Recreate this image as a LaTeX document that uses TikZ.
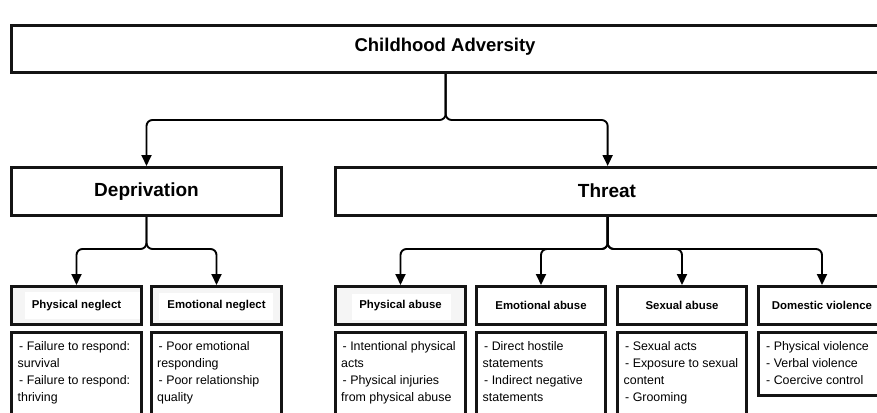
\documentclass[tikz,border=0pt]{standalone}
\usepackage{fontspec}
\setmainfont{Liberation Sans}
\usetikzlibrary{arrows.meta}
\begin{document}
\begin{tikzpicture}[x=1pt,y=-1pt,
  box/.style={draw=black!92, line width=2.6pt, inner sep=0pt},
  bigbox/.style={box, minimum height=48.4pt},
  titlebox/.style={box, minimum height=38.4pt, font=\fontsize{11.4}{13}\selectfont\bfseries},
  tint/.style={fill=black!4},
  descbox/.style={box},
  desctext/.style={anchor=north west, inner sep=0pt, align=left, font=\fontsize{12.4}{17}\selectfont},
  conn/.style={line width=1.9pt, rounded corners=6pt, -{Triangle[width=10pt,length=11pt]}}
]
\useasboundingbox (0,0) rectangle (877,412);
\clip (0,0) rectangle (877,412);

% faint tinted backgrounds behind three titles
\fill[tint] (11,286) rectangle (142,325);
\fill[white] (25,292) rectangle (140,319);
\fill[tint] (151,286) rectangle (282,325);
\fill[white] (159,293) rectangle (273,320);
\fill[tint] (335,286) rectangle (466,325);
\fill[white] (352,294) rectangle (451,320);

% level 0
\node[box, minimum width=868.7pt, minimum height=47.4pt] (top) at (445.65,49) {};
\node[font=\fontsize{18.5}{22}\selectfont\bfseries] (toptext) at (445,47) {Childhood Adversity};

% level 1
\node[bigbox, minimum width=270.4pt, font=\fontsize{19}{23}\selectfont\bfseries] (dep) at (146.5,191.5) {Deprivation};
\node[bigbox, minimum width=544.7pt] (thr) at (607.65,191.5) {};
\node[font=\fontsize{19}{23}\selectfont\bfseries] (thrtext) at (607,191) {Threat};

% level 2 titles
\node[titlebox, minimum width=130.4pt] (pn) at (76.5,305.5) {Physical neglect};
\node[titlebox, minimum width=130.4pt] (en) at (216.5,305.5) {Emotional neglect};
\node[titlebox, minimum width=130.4pt] (pa) at (400.5,305.5) {Physical abuse};
\node[titlebox, minimum width=129.4pt] (ea) at (541,305.5) {Emotional abuse};
\node[titlebox, minimum width=129.4pt] (sa) at (682,305.5) {Sexual abuse};
\node[titlebox, minimum width=127.4pt] (dv) at (822,305.5) {Domestic violence};

% description boxes
\node[descbox, minimum width=130.4pt, minimum height=107.4pt] (pnd) at (76.5,386) {};
\node[descbox, minimum width=130.4pt, minimum height=107.4pt] (end) at (216.5,386) {};
\node[descbox, minimum width=130.4pt, minimum height=107.4pt] (pad) at (400.5,386) {};
\node[descbox, minimum width=129.4pt, minimum height=107.4pt] (ead) at (541,386) {};
\node[descbox, minimum width=129.4pt, minimum height=107.4pt] (sad) at (682,386) {};
\node[descbox, minimum width=127.4pt, minimum height=63.4pt] (dvd) at (822,364) {};

% description texts
\node[desctext] (pnt) at (17.5,341) {\hspace{1.5pt}- Failure to respond:\\survival\\\hspace{1.5pt}- Failure to respond:\\thriving};
\node[desctext] (ent) at (157,341) {\hspace{1.5pt}- Poor emotional\\responding\\\hspace{1.5pt}- Poor relationship\\quality};
\node[desctext] (pat) at (341,341) {\hspace{1.5pt}- Intentional physical\\acts\\\hspace{1.5pt}- Physical injuries\\from physical abuse};
\node[desctext] (eat) at (482.5,341) {\hspace{1.5pt}- Direct hostile\\statements\\\hspace{1.5pt}- Indirect negative\\statements};
\node[desctext] (sat) at (623.5,341) {\hspace{1.5pt}- Sexual acts\\\hspace{1.5pt}- Exposure to sexual\\content\\\hspace{1.5pt}- Grooming};
\node[desctext] (dvt) at (766,341) {- Physical violence\\- Verbal violence\\- Coercive control};

% connectors
\path (top.south) ++(0,46) coordinate (j1);
\path (dep.south) ++(0,32) coordinate (j2);
\path (thr.south) ++(0,32) coordinate (j3);

\draw[conn] (top.south) -- (j1) -| (dep.north);
\draw[conn] (top.south) -- (j1) -| (thr.north);

\draw[conn] (dep.south) -- (j2) -| (pn.north);
\draw[conn] (dep.south) -- (j2) -| (en.north);

\draw[conn] (thr.south) -- (j3) -| (pa.north);
\draw[conn] (thr.south) -- (j3) -| (ea.north);
\draw[conn] (thr.south) -- (j3) -| (sa.north);
\draw[conn] (thr.south) -- (j3) -| (dv.north);
\end{tikzpicture}
\end{document}
